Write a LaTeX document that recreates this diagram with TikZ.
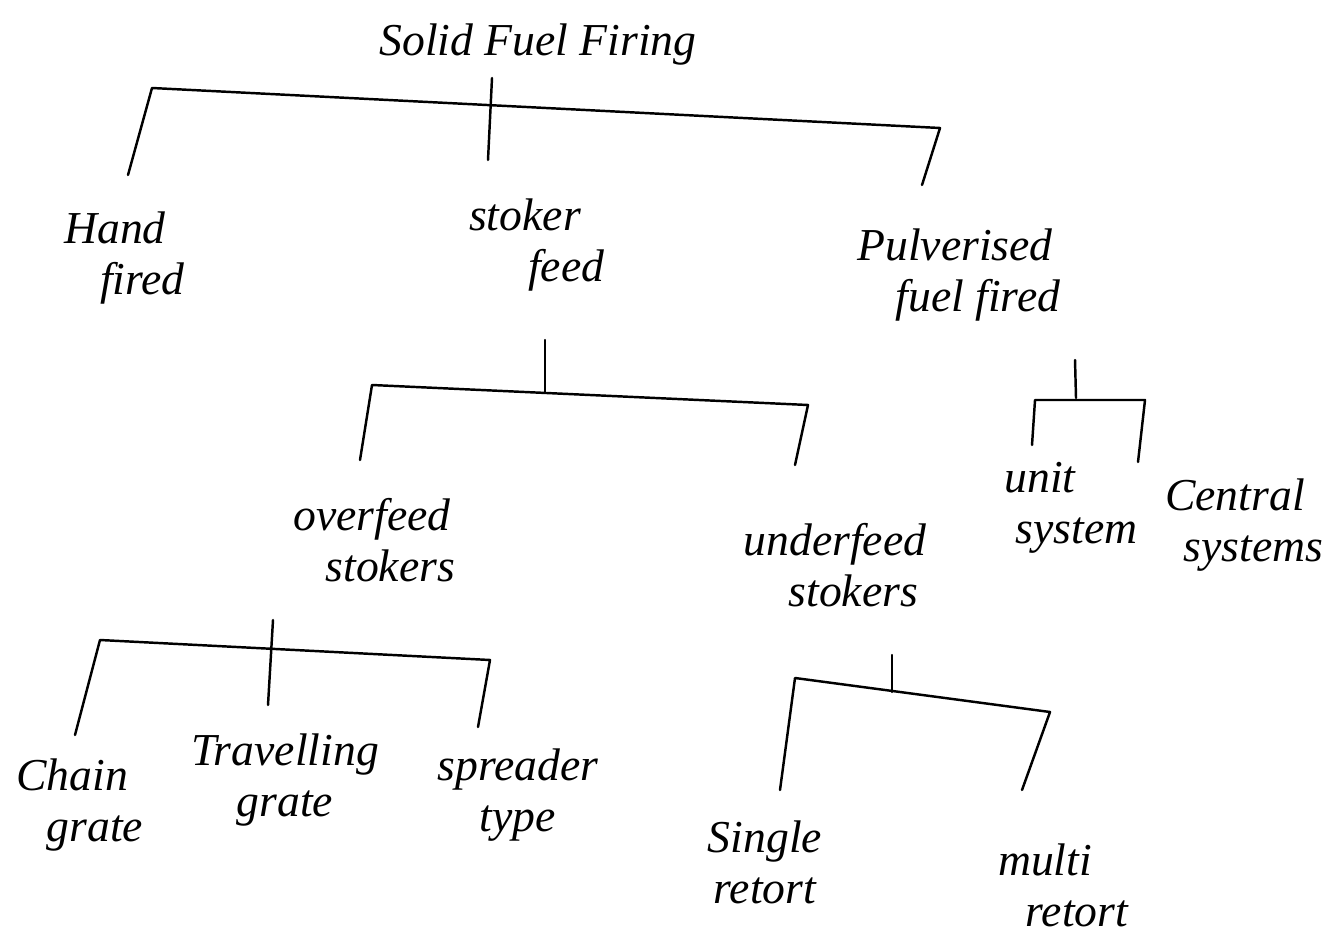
\documentclass[tikz,border=0pt]{standalone}
\usepackage{fontspec}
\setmainfont{Liberation Serif}
\begin{document}
\begin{tikzpicture}[x=0.02cm,y=-0.02cm,
  lbl/.style={font=\fontsize{26}{33}\selectfont\itshape, align=center, inner sep=0pt},
  br/.style={line width=1.4pt, line cap=round, line join=round}]
\useasboundingbox (0,0) rectangle (1337,935);
% labels
\node[lbl] (root) at (538,45) {Solid Fuel Firing};
\node[lbl] (hand) at (115,258) {Hand\\[-4pt]\hspace*{1.2em}fired};
\node[lbl] (stoker) at (525,245) {stoker\\[-4pt]\hspace*{1.8em}feed};
\node[lbl] (pulv) at (955,275) {Pulverised\\[-4pt]\hspace*{1.0em}fuel fired};
\node[lbl] (over) at (372,540) {overfeed\\[-4pt]\hspace*{0.8em}stokers};
\node[lbl] (under) at (835,565) {underfeed\\[-4pt]\hspace*{0.8em}stokers};
\node[lbl] (unit) at (1040,508) {unit\\[-4pt]\hspace*{1.6em}system};
\node[lbl] (central) at (1235,525) {Central\\[-4pt]\hspace*{0.8em}systems};
\node[lbl] (chain) at (72,805) {Chain\\[-4pt]\hspace*{1.0em}grate};
\node[lbl] (travel) at (285,780) {Travelling\\[-4pt]grate};
\node[lbl] (spread) at (518,795) {spreader\\[-4pt]type};
\node[lbl] (single) at (765,862) {Single\\[-4pt]retort};
\node[lbl] (multi) at (1045,885) {multi\\[-4pt]\hspace*{1.4em}retort};
% bracket 1
\coordinate (a1) at (152,88); \coordinate (b1) at (940,128);
\coordinate (a1b) at (128,175); \coordinate (b1b) at (922,185);
\coordinate (s1t) at (492,78); \coordinate (s1b) at (488,160);
\draw[br] (a1b) -- (a1) -- (b1) -- (b1b);
\draw[br] (s1t) -- (s1b);
% bracket 2
\coordinate (a2) at (372,385); \coordinate (b2) at (808,405);
\coordinate (a2b) at (360,460); \coordinate (b2b) at (795,465);
\coordinate (s2t) at (545,340); \coordinate (s2b) at (545,392);
\draw[br] (a2b) -- (a2) -- (b2) -- (b2b);
\draw[br] (s2t) -- (s2b);
% bracket 3
\coordinate (a3) at (1035,400); \coordinate (b3) at (1145,400);
\coordinate (a3b) at (1032,445); \coordinate (b3b) at (1138,462);
\coordinate (s3t) at (1075,360); \coordinate (s3b) at (1076,398);
\draw[br] (a3b) -- (a3) -- (b3) -- (b3b);
\draw[br] (s3t) -- (s3b);
% bracket 4
\coordinate (a4) at (100,640); \coordinate (b4) at (490,660);
\coordinate (a4b) at (75,735); \coordinate (b4b) at (478,727);
\coordinate (s4t) at (273,620); \coordinate (s4b) at (268,705);
\draw[br] (a4b) -- (a4) -- (b4) -- (b4b);
\draw[br] (s4t) -- (s4b);
% bracket 5
\coordinate (a5) at (795,678); \coordinate (b5) at (1050,712);
\coordinate (a5b) at (780,790); \coordinate (b5b) at (1022,790);
\coordinate (s5t) at (892,655); \coordinate (s5b) at (892,692);
\draw[br] (a5b) -- (a5) -- (b5) -- (b5b);
\draw[br] (s5t) -- (s5b);
\end{tikzpicture}
\end{document}
